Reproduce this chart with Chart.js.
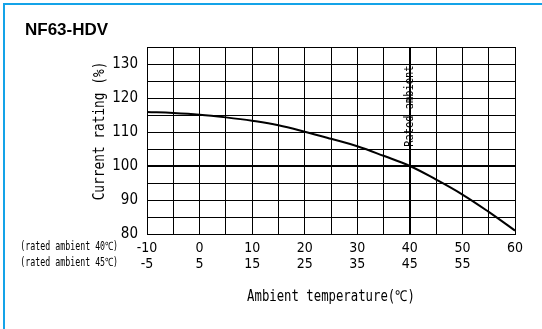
<!DOCTYPE html>
<html>
<head>
<meta charset="utf-8">
<script src="https://cdn.jsdelivr.net/npm/chart.js@4"></script>
<style>
  html, body { margin: 0; padding: 0; background: #fff; }
  #wrap { position: relative; width: 542px; height: 329px; overflow: hidden; }
  #frame { position: absolute; left: 3px; top: 3px; right: -5px; bottom: -5px;
           border-left: 2px solid #14a3e8; border-top: 2px solid #14a3e8; }
  canvas { position: absolute; left: 0; top: 0; }
</style>
</head>
<body>
<div id="wrap">
  <div id="frame"></div>
  <canvas id="chart" width="542" height="329"></canvas>
</div>
<script>
// --- DATA ---
const temps  = [-10, -5, 0, 5, 10, 15, 20, 25, 30, 35, 40, 45, 50, 55, 60];
const rating = [115.9, 115.6, 115.1, 114.3, 113.3, 112.0, 110.1, 108.0, 105.8, 103.0, 100.0, 96.0, 91.6, 86.5, 81.0];

const xTicks40 = ["-10", "0", "10", "20", "30", "40", "50", "60"];   // rated ambient 40℃
const xTicks45 = ["-5", "5", "15", "25", "35", "45", "55", ""];      // rated ambient 45℃
const yTicks   = [80, 90, 100, 110, 120, 130];

const rowLabels = ["(rated ambient 40℃)", "(rated ambient 45℃)"];
const titleText = "NF63-HDV";
const yTitle = "Current rating (%)";
const xTitle = "Ambient temperature(℃)";
const ratedText = "Rated ambient";
const ratedTemp = 40;
const ratedValue = 100;

const CAD = "'DejaVu Sans Mono', monospace";
const NARROW = "'Liberation Sans Narrow', 'DejaVu Sans Condensed', sans-serif";

// draw narrow "CAD style" text by squeezing it horizontally
function cadText(ctx, str, x, y, size, squeeze, align) {
    ctx.save();
    ctx.translate(x, y);
    ctx.scale(squeeze, 1);
    ctx.font = size + "px " + CAD;
    ctx.textAlign = align || "center";
    ctx.textBaseline = "middle";
    ctx.fillStyle = "#000";
    ctx.fillText(str, 0, 0);
    ctx.restore();
}

// --- DECORATION PLUGIN ---
const decor = {
    id: "decor",
    beforeDatasetsDraw(chart) {
        const { ctx, scales: { x, y }, chartArea: a } = chart;
        ctx.save();
        ctx.strokeStyle = "#000";
        ctx.lineWidth = 2;
        const px = Math.round(x.getPixelForValue(ratedTemp));
        const py = Math.round(y.getPixelForValue(ratedValue));
        ctx.beginPath();
        ctx.moveTo(px, a.top); ctx.lineTo(px, a.bottom);
        ctx.moveTo(a.left, py); ctx.lineTo(a.right, py);
        ctx.stroke();
        ctx.restore();
    },
    afterDraw(chart) {
        const { ctx, scales: { x, y }, chartArea: a } = chart;

        ctx.save();
        ctx.font = "bold 17px 'Liberation Sans', Arial, sans-serif";
        ctx.fillStyle = "#000";
        ctx.textBaseline = "alphabetic";
        ctx.fillText(titleText, 25, 35);
        ctx.restore();

        // y title, rotated
        ctx.save();
        ctx.translate(100, 131);
        ctx.rotate(-Math.PI / 2);
        cadText(ctx, yTitle, 0, 0, 16, 0.8, "center");
        ctx.restore();

        // x title
        cadText(ctx, xTitle, (a.left + a.right) / 2, 297, 15, 0.82, "center");

        // row labels for the two tick rows
        cadText(ctx, rowLabels[0], 118, 247, 11.5, 0.72, "right");
        cadText(ctx, rowLabels[1], 118, 263, 11.5, 0.72, "right");

        // rated ambient label on the 40 line
        ctx.save();
        ctx.translate(x.getPixelForValue(ratedTemp), y.getPixelForValue(117.6));
        ctx.rotate(-Math.PI / 2);
        cadText(ctx, ratedText, 0, 0, 13, 0.8, "center");
        ctx.restore();
    }
};

new Chart(document.getElementById("chart"), {
    type: "line",
    data: {
        datasets: [{
            data: temps.map((t, i) => ({ x: t, y: rating[i] })),
            borderColor: "#000",
            borderWidth: 2,
            pointRadius: 0,
            tension: 0.4,
            fill: false
        }]
    },
    options: {
        responsive: false,
        animation: false,
        events: [],
        layout: { padding: { left: 0, right: 27, top: 47, bottom: 0 } },
        plugins: { legend: { display: false }, tooltip: { enabled: false } },
        scales: {
            x: {
                type: "linear",
                min: -10,
                max: 60,
                afterFit: s => { s.height = 95; },
                border: { display: true, color: "#000", width: 1 },
                grid: { color: "#000", lineWidth: 1, drawTicks: false },
                ticks: {
                    stepSize: 5,
                    autoSkip: false,
                    maxRotation: 0,
                    padding: 6,
                    color: "#000",
                    font: { family: NARROW, size: 14, lineHeight: 1.15 },
                    callback: v => {
                        if (v % 10 !== 0) return "";
                        const i = (v + 10) / 10;
                        return [xTicks40[i], xTicks45[i]];
                    }
                }
            },
            y: {
                min: 80,
                max: 135,
                afterFit: s => { s.width = 147; },
                border: { display: true, color: "#000", width: 1 },
                grid: { color: "#000", lineWidth: 1, drawTicks: false },
                ticks: {
                    stepSize: 5,
                    autoSkip: false,
                    padding: 9,
                    color: "#000",
                    font: { family: NARROW, size: 15 },
                    callback: v => yTicks.includes(v) ? String(v) : ""
                }
            }
        }
    },
    plugins: [decor]
});
</script>
</body>
</html>
